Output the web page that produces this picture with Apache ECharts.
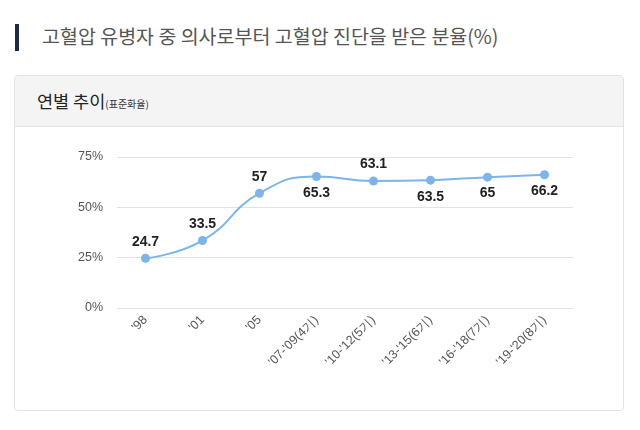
<!DOCTYPE html>
<html>
<head>
<meta charset="utf-8">
<script src="https://cdn.jsdelivr.net/npm/echarts@6/dist/echarts.min.js"></script>
<style>
    body { margin: 0; width: 640px; height: 430px; background: #fff; font-family: "Noto Sans CJK KR", sans-serif; position: relative; overflow: hidden; }
    .bar { position: absolute; left: 15px; top: 24px; width: 4px; height: 27px; background: #1d2a44; }
    .title { position: absolute; left: 42px; top: 21px; font-size: 19.5px; color: #555; }
    .card { position: absolute; left: 14px; top: 75px; width: 610px; height: 336px; border: 1px solid #e2e2e2; border-radius: 4px; box-sizing: border-box; }
    .cardHead { height: 50px; background: #f4f4f4; border-bottom: 1px solid #e2e2e2; border-radius: 4px 4px 0 0; }
    .cardTitle { position: absolute; left: 22px; top: 12px; font-size: 17.5px; color: #222; }
    .cardTitle small { font-size: 10px; color: #333; }
    #chart { position: absolute; left: 0; top: 0; width: 640px; height: 430px; }
</style>
</head>
<body>
<div class="bar"></div>
<div class="title">고혈압 유병자 중 의사로부터 고혈압 진단을 받은 분율(%)</div>
<div class="card"><div class="cardHead"></div><div class="cardTitle">연별 추이<small>(표준화율)</small></div></div>
<div id="chart"></div>
<script>
var categories = ["'98", "'01", "'05", "'07-'09(4기)", "'10-'12(5기)", "'13-'15(6기)", "'16-'18(7기)", "'19-'20(8기)"];
var values = [24.7, 33.5, 57, 65.3, 63.1, 63.5, 65, 66.2];
var labelBelow = [false, false, false, true, false, true, true, true];
var yTicks = [0, 25, 50, 75];

var chart = echarts.init(document.getElementById('chart'));
chart.setOption({
    animation: false,
    grid: { left: 117, right: 67, top: 157, bottom: 122 },
    xAxis: {
        type: 'category',
        data: categories,
        axisLine: { show: false },
        axisTick: { show: false },
        axisLabel: { rotate: 45, color: '#555', fontSize: 12.5, margin: 10, interval: 0 }
    },
    yAxis: {
        type: 'value',
        min: yTicks[0],
        max: yTicks[yTicks.length - 1],
        interval: 25,
        axisLabel: { formatter: '{value}%', color: '#555', fontSize: 12.5, margin: 14 },
        splitLine: { lineStyle: { color: '#e3e3e3' } }
    },
    series: [{
        type: 'line',
        smooth: true,
        symbol: 'circle',
        symbolSize: 9,
        lineStyle: { color: '#7cb5ec', width: 2 },
        itemStyle: { color: '#7cb5ec' },
        data: values.map(function (v, i) {
            return {
                value: v,
                label: { position: labelBelow[i] ? 'bottom' : 'top', distance: 5 }
            };
        }),
        label: { show: true, color: '#222', fontSize: 14, fontWeight: 'bold' }
    }]
});
</script>
</body>
</html>
